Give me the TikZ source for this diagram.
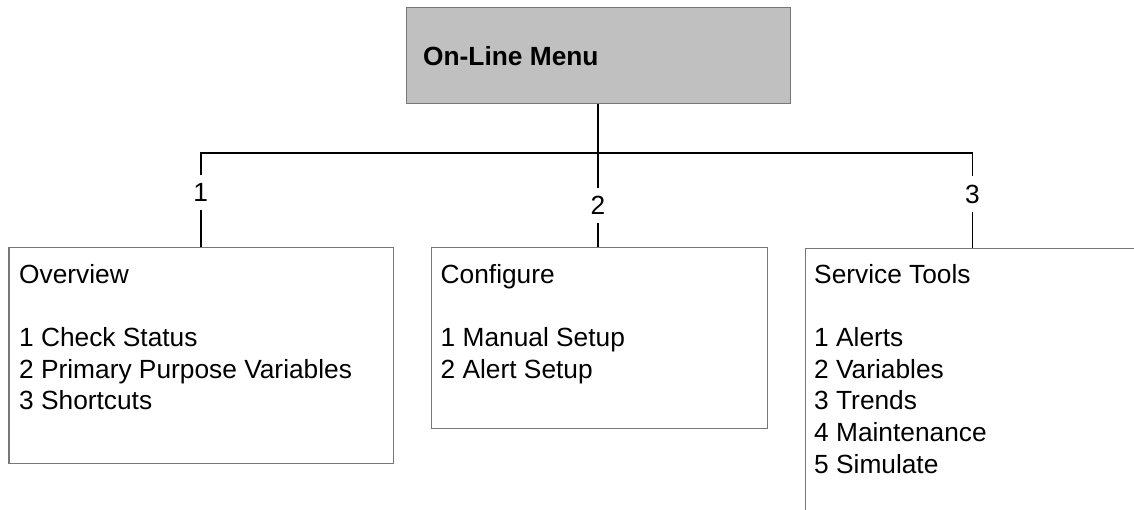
\documentclass[tikz,border=0pt]{standalone}
\usepackage{fontspec}
\setmainfont{Liberation Sans}
\definecolor{boxfill}{HTML}{C0C0C0}
\definecolor{boxedge}{HTML}{777777}
\begin{document}
\begin{tikzpicture}[x=1pt,y=-1pt,
  menubox/.style={draw=boxedge,line width=1.4pt,inner sep=0pt,anchor=north west},
  conn/.style={draw=black,line width=1.8pt},
  lbl/.style={inner xsep=2pt,inner ysep=8pt,font=\fontsize{26.3}{31.7}\selectfont},
  txt/.style={anchor=base west,align=left,inner sep=0pt,font=\fontsize{26.3}{31.7}\selectfont}]
\useasboundingbox (0,0) rectangle (1134,509);
\clip (0,0) rectangle (1134,509);
% top box
\node[menubox,fill=boxfill,minimum width=384pt,minimum height=96pt] (top) at (406,7) {};
\node[txt,font=\fontsize{26.3}{31.7}\selectfont\bfseries] (toptext) at (423,65) {On-Line Menu};
% sub boxes
\node[menubox,minimum width=384.4pt,minimum height=216pt] (b1) at (8.3,247) {};
\node[menubox,minimum width=336pt,minimum height=181pt] (b2) at (431,247) {};
\node[menubox,minimum width=400pt,minimum height=300pt] (b3) at (805,248) {};
% labels
\node[lbl] (l1) at (200.7,192.5) {1};
\node[lbl] (l2) at (598,205.5) {2};
\node[lbl] (l3) at (972.5,194) {3};
\coordinate (bar) at (598,152.7);
% connectors
\draw[conn] (l1) -- (l1 |- bar) -- (l3 |- bar) -- (l3);
\draw[conn] (top.south -| l2) -- (l2);
\draw[conn] (l1) -- (l1 |- b1.north);
\draw[conn] (l2) -- (l2 |- b2.north);
\draw[conn] (l3) -- (l3 |- b3.north);
% texts (anchor = baseline of the last line)
\node[txt] (t1) at (19,409.8) {Overview\\[31.7pt]1 Check Status\\2 Primary Purpose Variables\\3 Shortcuts};
\node[txt] (t2) at (440.5,378.1) {Configure\\[31.7pt]1 Manual Setup\\2 Alert Setup};
\node[txt] (t3) at (814,473.2) {Service Tools\\[31.7pt]1 Alerts\\2 Variables\\3 Trends\\4 Maintenance\\5 Simulate};
\end{tikzpicture}
\end{document}
